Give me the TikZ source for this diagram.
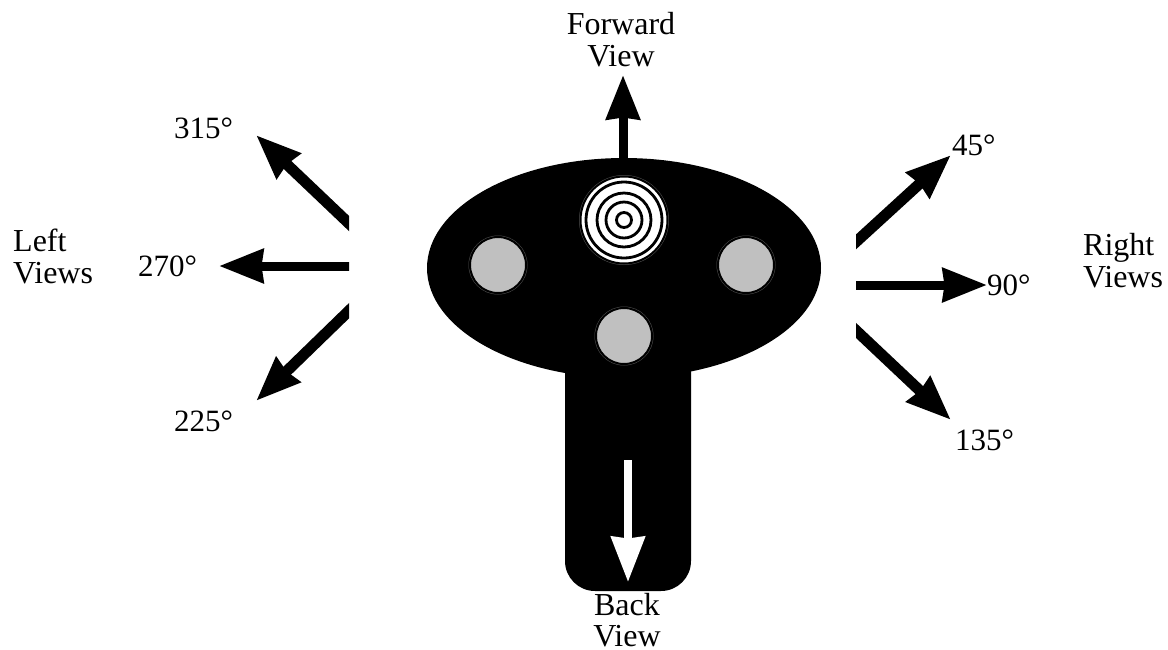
\documentclass[tikz,border=0pt]{standalone}
\usepackage{fontspec}
\setmainfont{Liberation Serif}
\usetikzlibrary{arrows.meta,shapes.geometric}
\definecolor{viewgray}{RGB}{192,192,192}
\definecolor{viewedge}{RGB}{80,80,80}
\tikzset{
  view arrow/.style={
    -{Stealth[length=44pt,width=33pt,inset=1.5pt]},
    line width=9pt,
    draw=black,
  },
  slant arrow/.style={
    view arrow,
    line width=11pt,
  },
  back arrow/.style={
    -{Stealth[length=45pt,width=33pt,inset=1.5pt]},
    line width=8pt,
    draw=white,
  },
  view label/.style={
    inner sep=0pt,
    font=\fontsize{31}{32}\selectfont,
    anchor=base west,
  },
  view title/.style={
    inner sep=0pt,
    font=\fontsize{32}{32}\selectfont,
  },
  button/.style={
    circle,
    preaction={draw=viewedge, line width=3pt},
    draw=black,
    line width=2pt,
    fill=viewgray,
    inner sep=0pt,
    outer sep=0pt,
    minimum size=56pt,
  },
  ring/.style={
    circle,
    draw=black,
    line width=2.8pt,
    inner sep=0pt,
  },
}
\begin{document}
\begin{tikzpicture}[x=1pt,y=-1pt]
  \useasboundingbox (0,0) rectangle (1168,649);
  \node[fill=black, rounded corners=30pt, inner sep=0pt, minimum width=126pt, minimum height=271pt] (stem) at (628,455.5) {};
  \node[ellipse, fill=black, inner sep=0pt, minimum width=394pt, minimum height=220pt] (body) at (624,268) {};
  \node[button] (btnl) at (498,265) {};
  \node[button] (btnr) at (746,265) {};
  \node[button] (btnb) at (624,336) {};
  \node[button, fill=white, minimum size=87pt] (lens) at (624,220) {};
  \node[ring, minimum size=76pt] (ringa) at (lens) {};
  \node[ring, minimum size=54pt] (ringb) at (lens) {};
  \node[ring, minimum size=36pt] (ringc) at (lens) {};
  \node[ring, minimum size=15pt] (ringd) at (lens) {};

  \coordinate (fwdbase) at (623,162);
  \coordinate (fwdtip) at (623,75);
  \draw[view arrow] (fwdbase) -- (fwdtip);
  \coordinate (backtop) at (628,460);
  \coordinate (backtip) at (628,582);
  \draw[back arrow] (backtop) -- (backtip);

  \begin{scope}
    \clip (856,0) rectangle (1168,649);
    \coordinate (ra) at (846,251);
    \coordinate (rb) at (846,285);
    \coordinate (rc) at (846,321);
    \coordinate (raend) at (951,155);
    \coordinate (rbend) at (987,285);
    \coordinate (rcend) at (951,420);
    \draw[slant arrow] (ra) -- (raend);
    \draw[view arrow] (rb) -- (rbend);
    \draw[slant arrow] (rc) -- (rcend);
  \end{scope}
  \begin{scope}
    \clip (0,0) rectangle (349,649);
    \coordinate (la) at (359,233);
    \coordinate (lb) at (359,266);
    \coordinate (lc) at (359,301);
    \coordinate (laend) at (256,135);
    \coordinate (lbend) at (219,266);
    \coordinate (lcend) at (256,401);
    \draw[slant arrow] (la) -- (laend);
    \draw[view arrow] (lb) -- (lbend);
    \draw[slant arrow] (lc) -- (lcend);
  \end{scope}

  \node[view label] (deg45) at (952,155) {45°};
  \node[view label] (deg90) at (987,295) {90°};
  \node[view label] (deg135) at (955,450) {135°};
  \node[view label] (deg315) at (174,138) {315°};
  \node[view label] (deg270) at (138,276) {270°};
  \node[view label] (deg225) at (174,431) {225°};
  \node[view title, align=center] (fwd) at (621,40) {Forward\\View};
  \node[view title, align=center, font=\fontsize{32}{31}\selectfont] (back) at (627,620) {Back\\View};
  \node[view title, align=left, anchor=west] (left) at (13,256) {Left\\Views};
  \node[view title, align=left, anchor=west] (right) at (1083,261) {Right\\Views};
\end{tikzpicture}
\end{document}
